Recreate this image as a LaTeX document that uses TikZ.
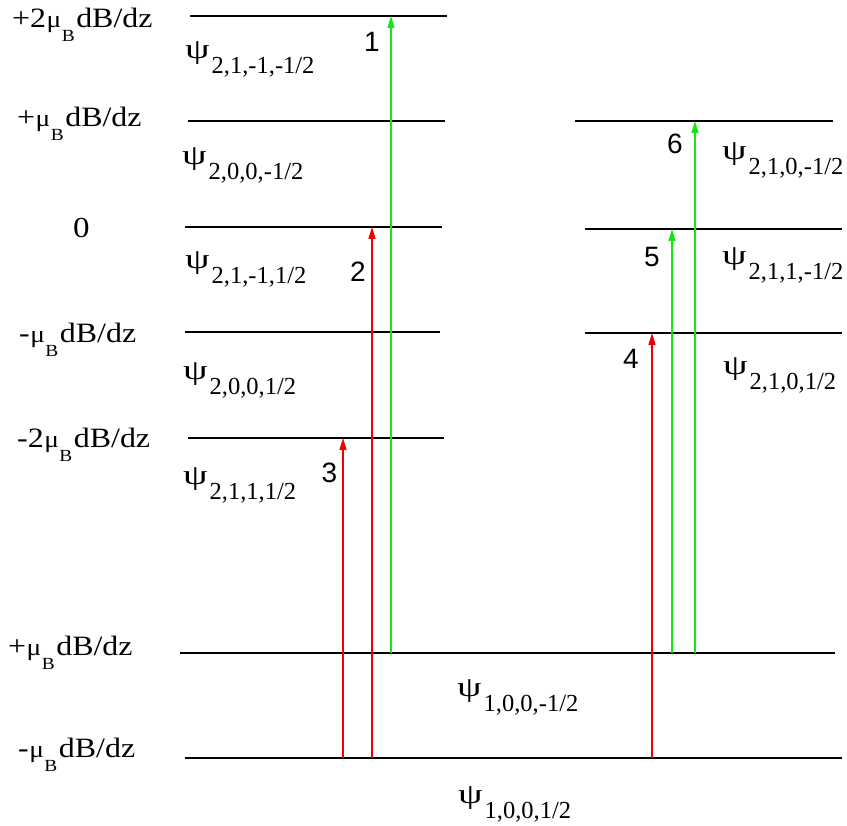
\documentclass[tikz,border=0pt]{standalone}
\usepackage{fontspec}
\setmainfont{Liberation Serif}
\newfontfamily\wideserif[FakeStretch=1.14]{Liberation Serif}
\newfontfamily\psifont[FakeStretch=1.4]{Liberation Serif}
\newfontfamily\numfont{Liberation Sans}
\usetikzlibrary{arrows.meta}
\definecolor{arrowgreen}{RGB}{20,230,20}
\definecolor{arrowred}{RGB}{240,0,0}
\newcommand{\psilab}[1]{{\psifont\fontsize{28}{28}\selectfont ψ}\hspace{2pt}\raisebox{-15pt}{\fontsize{24.5}{24.5}\selectfont #1}}
\newcommand{\enlab}[1]{{\wideserif\fontsize{28}{28}\selectfont #1\hspace{0.5pt}{\fontsize{24}{24}\selectfont μ}\hspace{0.5pt}\raisebox{-14pt}{\fontsize{17}{17}\selectfont B}\hspace{1.5pt}dB/dz}}
\begin{document}
\begin{tikzpicture}[x=1pt,y=-1pt,
  level/.style={line width=1.6pt,black},
  redarrow/.style={line width=1.3pt,arrowred,-{Triangle[length=12pt,width=7pt]}},
  greenarrow/.style={line width=1.3pt,arrowgreen,-{Triangle[length=12pt,width=7pt]}},
  elab/.style={anchor=base west,inner sep=0pt},
  plab/.style={anchor=base west,inner sep=0pt},
  nlab/.style={inner sep=0pt,font=\numfont\fontsize{28}{28}\selectfont}]
\useasboundingbox (0,0) rectangle (847,826);
% level lines
\coordinate (L1a) at (190,16);  \coordinate (L1b) at (447,16);
\coordinate (L2a) at (188,121); \coordinate (L2b) at (445,121);
\coordinate (L3a) at (185,227); \coordinate (L3b) at (442,227);
\coordinate (L4a) at (185,332); \coordinate (L4b) at (440,332);
\coordinate (L5a) at (188,438); \coordinate (L5b) at (444,438);
\coordinate (R1a) at (575,121); \coordinate (R1b) at (833,121);
\coordinate (R2a) at (585,229); \coordinate (R2b) at (842,229);
\coordinate (R3a) at (585,333); \coordinate (R3b) at (842,333);
\coordinate (G1a) at (180,653); \coordinate (G1b) at (835,653);
\coordinate (G2a) at (185,758); \coordinate (G2b) at (842,758);
\foreach \a/\b in {L1a/L1b,L2a/L2b,L3a/L3b,L4a/L4b,L5a/L5b,R1a/R1b,R2a/R2b,R3a/R3b,G1a/G1b,G2a/G2b}
  \draw[level] (\a) -- (\b);
% arrow end points
\coordinate (a1s) at (391,653); \coordinate (a1e) at (391,16);
\coordinate (a2s) at (372,758); \coordinate (a2e) at (372,227);
\coordinate (a3s) at (343,758); \coordinate (a3e) at (343,438);
\coordinate (a4s) at (652,758); \coordinate (a4e) at (652,333);
\coordinate (a5s) at (672,653); \coordinate (a5e) at (672,229);
\coordinate (a6s) at (695,653); \coordinate (a6e) at (695,121);
\draw[greenarrow] (a1s) -- (a1e);
\draw[redarrow] (a2s) -- (a2e);
\draw[redarrow] (a3s) -- (a3e);
\draw[redarrow] (a4s) -- (a4e);
\draw[greenarrow] (a5s) -- (a5e);
\draw[greenarrow] (a6s) -- (a6e);
% transition numbers
\node[nlab] (n1) at (372,42) {1};
\node[nlab] (n2) at (358,272) {2};
\node[nlab] (n3) at (329.5,472.5) {3};
\node[nlab] (n4) at (631,359) {4};
\node[nlab] (n5) at (652,257) {5};
\node[nlab] (n6) at (675,144) {6};
% energy labels
\node[elab] (e1) at (12,28) {\enlab{+2}};
\node[elab] (e2) at (17,127) {\enlab{+}};
\node[elab] (e3) at (73,238) {\wideserif\fontsize{29}{29}\selectfont 0};
\node[elab] (e4) at (19,343) {\enlab{-}};
\node[elab] (e5) at (17,448) {\enlab{-2}};
\node[elab] (e6) at (8,655) {\enlab{+}};
\node[elab] (e7) at (18,757) {\enlab{-}};
% state labels
\node[plab] (p1) at (185,59) {\psilab{2,1,-1,-1/2}};
\node[plab] (p2) at (182,165) {\psilab{2,0,0,-1/2}};
\node[plab] (p3) at (185,269) {\psilab{2,1,-1,1/2}};
\node[plab] (p4) at (183,380) {\psilab{2,0,0,1/2}};
\node[plab] (p5) at (183,485) {\psilab{2,1,1,1/2}};
\node[plab] (p6) at (722,160) {\psilab{2,1,0,-1/2}};
\node[plab] (p7) at (722,265) {\psilab{2,1,1,-1/2}};
\node[plab] (p8) at (723,375) {\psilab{2,1,0,1/2}};
\node[plab] (p9) at (457,696) {\psilab{1,0,0,-1/2}};
\node[plab] (p10) at (458,803) {\psilab{1,0,0,1/2}};
\end{tikzpicture}
\end{document}
